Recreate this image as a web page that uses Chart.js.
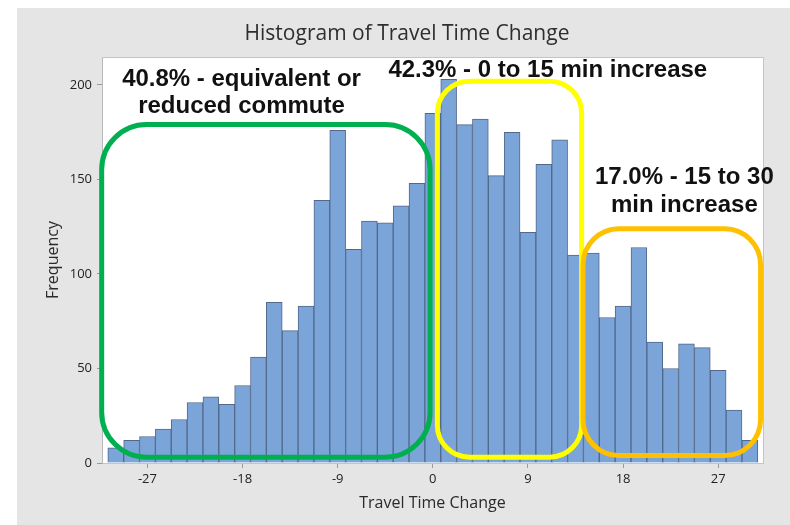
<!DOCTYPE html>
<html><head><meta charset="utf-8">
<script src="https://cdn.jsdelivr.net/npm/chart.js@4/dist/chart.umd.min.js"></script>
<style>html,body{margin:0;padding:0;background:#fff;}canvas{display:block;}</style>
</head><body>
<canvas id="c" width="790" height="525"></canvas>
<script>
// ---- data ----
const binCenters = [-30,-28.5,-27,-25.5,-24,-22.5,-21,-19.5,-18,-16.5,-15,-13.5,-12,-10.5,-9,-7.5,-6,-4.5,-3,-1.5,
  0,1.5,3,4.5,6,7.5,9,10.5,12,13.5,15,16.5,18,19.5,21,22.5,24,25.5,27,28.5,30];
const frequencies = [8,12,14,18,23,32,35,31,41,56,85,70,83,139,176,113,128,127,136,148,
  185,203,179,182,152,175,122,158,171,110,111,77,83,114,64,50,63,61,49,28,12];
const xTickValues = [-27,-18,-9,0,9,18,27];
const yTickValues = [0,50,100,150,200];
const chartTitle = 'Histogram of Travel Time Change';
const xTitle = 'Travel Time Change';
const yTitle = 'Frequency';
const regionLabels = [
  ['40.8% - equivalent or','reduced commute'],
  ['42.3% - 0 to 15 min increase'],
  ['17.0% - 15 to 30','min increase']
];

// ---- annotation layout (data coordinates) ----
const regionBoxes = [
  {x0:-31.33, x1:-0.26, y0:3.1, y1:179.1, color:'#00b050', r:45},
  {x0:0.43, x1:14.08, y0:3.1, y1:202, color:'#ffff00', r:32},
  {x0:14.21, x1:31.01, y0:4.0, y1:123.9, color:'#ffc000', r:36}
];
const regionTextPos = [
  {x:-18.1, y:[199.5,185.2]},
  {x:10.88, y:[204.2]},
  {x:23.8, y:[147.8,132.6]}
];

const decor = {
  id:'decor',
  beforeDraw(chart){
    const {ctx, chartArea:a} = chart;
    ctx.save();
    ctx.fillStyle='#ffffff'; ctx.fillRect(0,0,chart.width,chart.height);
    ctx.fillStyle='#e5e5e5'; ctx.fillRect(17,8,chart.width-17,chart.height-8);
    ctx.fillStyle='#ffffff'; ctx.fillRect(a.left,a.top,a.right-a.left,a.bottom-a.top);
    ctx.restore();
  },
  afterDatasetsDraw(chart){
    const {ctx, chartArea:a, scales:{x,y}} = chart;
    ctx.save();
    ctx.strokeStyle='#c4c4c4'; ctx.lineWidth=1;
    ctx.beginPath();
    ctx.moveTo(a.left, a.top+0.5); ctx.lineTo(a.right+0.5, a.top+0.5); ctx.lineTo(a.right+0.5, a.bottom);
    ctx.stroke();
    regionBoxes.forEach(b=>{
      const l=x.getPixelForValue(b.x0), r=x.getPixelForValue(b.x1);
      const t=y.getPixelForValue(b.y1), bt=y.getPixelForValue(b.y0);
      ctx.strokeStyle=b.color; ctx.lineWidth=5;
      ctx.beginPath(); ctx.roundRect(l,t,r-l,bt-t,b.r); ctx.stroke();
    });
    ctx.fillStyle='#111';
    ctx.font='bold 24px "Liberation Sans", Arial, sans-serif';
    ctx.textAlign='center'; ctx.textBaseline='alphabetic';
    regionLabels.forEach((lines,i)=>{
      const p=regionTextPos[i];
      lines.forEach((s,j)=>ctx.fillText(s, x.getPixelForValue(p.x), y.getPixelForValue(p.y[j])));
    });
    ctx.restore();
  },
  afterDraw(chart){
    const ctx=chart.ctx;
    ctx.save();
    ctx.fillStyle='#2e2e2e'; ctx.font='21px "Open Sans", sans-serif';
    ctx.textAlign='center'; ctx.textBaseline='middle';
    ctx.fillText(chartTitle, 407, 34);
    ctx.restore();
  }
};

new Chart(document.getElementById('c'), {
  type:'bar',
  data:{ datasets:[{
    data: binCenters.map((v,i)=>({x:v, y:frequencies[i]})),
    backgroundColor:'#7ba4d8', borderColor:'#52688a', borderWidth:1,
    barPercentage:1, categoryPercentage:1
  }]},
  options:{
    responsive:false, animation:false, devicePixelRatio:1,
    layout:{padding:{left:0, top:57, right:27, bottom:0}},
    plugins:{legend:{display:false}, tooltip:{enabled:false}, title:{display:false}},
    scales:{
      x:{
        type:'linear', min:-31.3, max:31.24, offset:false,
        afterBuildTicks:s=>{ s.ticks = xTickValues.map(v=>({value:v})); },
        afterFit:s=>{ s.height = 62; },
        grid:{drawOnChartArea:false, drawTicks:true, tickLength:5, color:'#9a9a9a', offset:false},
        border:{display:true, color:'#c4c4c4'},
        ticks:{padding:3, color:'#222', font:{family:'Open Sans', size:13}, maxRotation:0, autoSkip:false},
        title:{display:true, text:xTitle, color:'#2a2a2a', font:{family:'Open Sans', size:16}, padding:{top:0, bottom:12.4}}
      },
      y:{
        min:0, max:214.8,
        afterBuildTicks:s=>{ s.ticks = yTickValues.map(v=>({value:v})); },
        afterFit:s=>{ s.width = 102; },
        grid:{drawOnChartArea:false, drawTicks:true, tickLength:5, color:'#9a9a9a'},
        border:{display:true, color:'#b8b8b8'},
        ticks:{padding:5, color:'#222', font:{family:'Open Sans', size:13}},
        title:{display:true, text:yTitle, color:'#2a2a2a', font:{family:'Open Sans', size:16}, padding:{top:43.4, bottom:0}}
      }
    }
  },
  plugins:[decor]
});
</script>
</body></html>
